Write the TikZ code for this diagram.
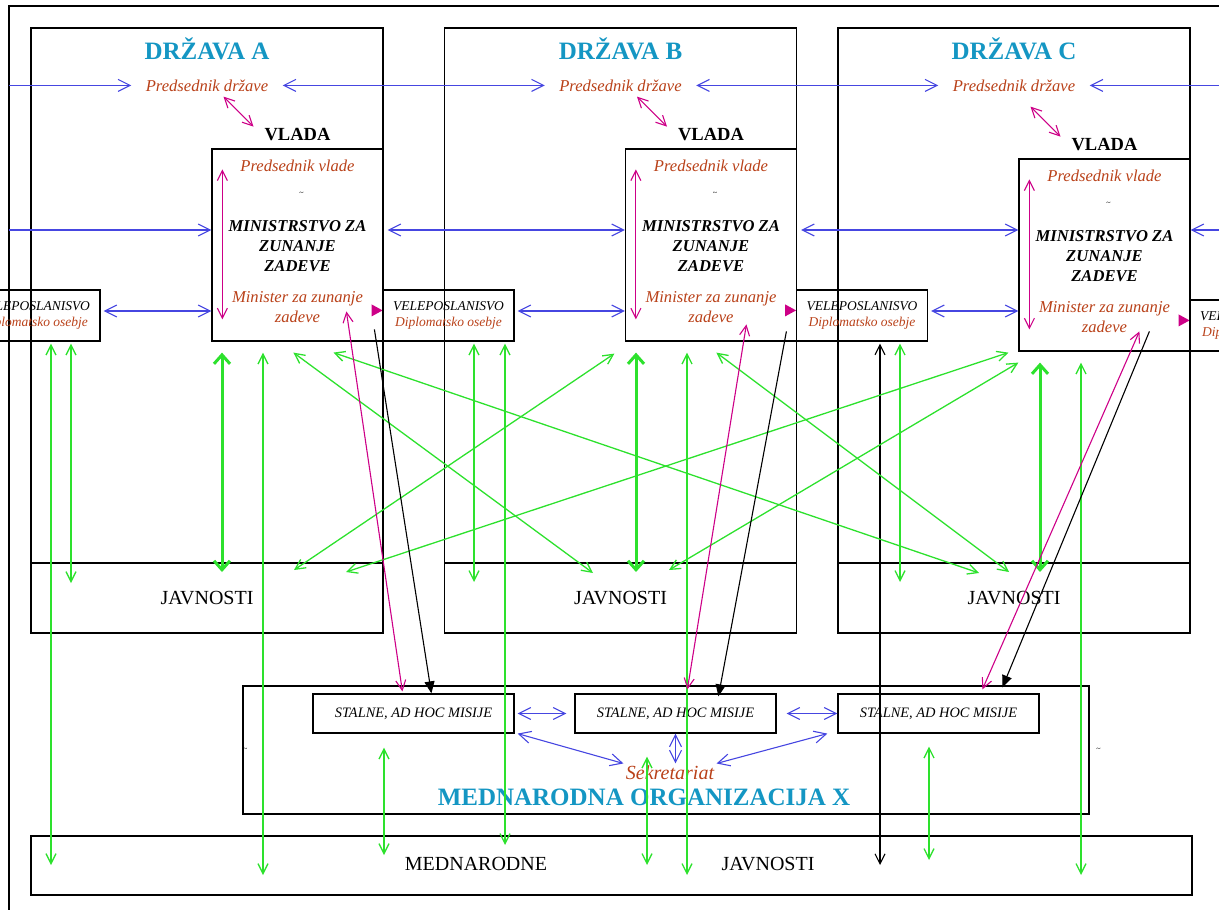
\documentclass[tikz,border=0pt]{standalone}
\usepackage{fontspec}
\setmainfont{Liberation Serif}
\usetikzlibrary{arrows.meta, positioning, calc}

\definecolor{titlecol}{RGB}{20,150,195}
\definecolor{txtbrown}{RGB}{185,65,25}
\definecolor{blueln}{RGB}{70,70,225}
\definecolor{magln}{RGB}{205,0,135}
\definecolor{greenln}{RGB}{45,225,45}

\tikzset{
         mystate/.style={draw, line width=1.2pt, minimum width=352pt, minimum height=605pt, inner sep=0pt},
         myjav/.style={draw, line width=1.2pt, minimum width=352pt, minimum height=70pt, inner sep=0pt, font=\fontsize{20}{22}\selectfont},
         myvlada/.style={draw, line width=1.2pt, minimum width=171pt, minimum height=192pt, inner sep=0pt, anchor=north east},
         myvel/.style={draw, line width=1.2pt, minimum width=131pt, minimum height=51pt, inner sep=0pt, align=center, font=\itshape\fontsize{13.5}{16}\selectfont},
         mymis/.style={draw, line width=1.2pt, minimum width=201pt, minimum height=39pt, inner sep=0pt, font=\itshape\fontsize{14.4}{16}\selectfont},
         mytitle/.style={inner sep=0pt, text=titlecol, font=\bfseries\fontsize{25}{28}\selectfont},
         mypres/.style={inner xsep=14pt, inner ysep=0pt, text=txtbrown, font=\itshape\fontsize{16.6}{20}\selectfont},
         mybold/.style={inner sep=0pt, font=\bfseries\fontsize{18.5}{20}\selectfont},
         myminis/.style={inner sep=0pt, align=center, font=\bfseries\itshape\fontsize{16.6}{20}\selectfont},
         mytilde/.style={inner sep=0pt, font=\fontsize{8}{8}\selectfont},
         myplain/.style={inner sep=0pt, font=\fontsize{20}{22}\selectfont}
      }

\begin{document}
\begin{tikzpicture}[x=1pt, y=-1pt, line width=1pt]
                  \tikzstyle{bline} = [draw=blueln, line width=1.1pt, >={Straight Barb[length=12pt,width=12pt]}]
                  \tikzstyle{gline} = [draw=greenln, line width=1.3pt, >={Straight Barb[length=10pt,width=10pt]}]
                  \tikzstyle{gthick} = [draw=greenln, line width=3pt, >={Straight Barb[length=9pt,width=16pt]}]
                  \tikzstyle{mline} = [draw=magln, line width=1.1pt, >={Straight Barb[length=10pt,width=10pt]}]
                  \tikzstyle{kline} = [draw=black, line width=1.1pt, >={Triangle[length=12pt,width=10pt]}]
                  \tikzstyle{kopen} = [draw=black, line width=1.1pt, >={Straight Barb[length=10pt,width=10pt]}]
                     \useasboundingbox (0,0) rectangle (1219,910);
                     \clip (0,0) rectangle (1219,910);
                     \coordinate (fr) at (9,6);
                     \coordinate (rt) at (1219,6);
                     \coordinate (mid) at (0,230);
                     \coordinate (vrow) at (0,311);
                     \draw[line width=2.5pt] (9,910) -- (fr) -- (rt);

                     % states
                     \foreach \s/\cx/\vy in {A/207/121, B/620.5/121, C/1014/131}{
                        \node[mystate] (drz\s) at (\cx,330.5) {};
                        \node[myjav, anchor=south] (jav\s) at (drz\s.south) {\raisebox{-4pt}{JAVNOSTI}};
                        \node[mytitle] (tit\s) at ([yshift=-21pt]drz\s.north) {DRŽAVA \s};
                        \node[mypres] (pres\s) at ([yshift=-58pt]drz\s.north) {Predsednik države};
                        \node[myvlada] (vbox\s) at ([yshift={-\vy*1pt}]drz\s.north east) {};
                        \node[mybold, above=7pt of vbox\s] (vl\s) {VLADA};
                        \node[mypres, inner xsep=0pt] (pv\s) at ([yshift=-17pt]vbox\s.north) {Predsednik vlade};
                        \node[mytilde] (tl\s) at ([xshift=4pt,yshift=-45pt]vbox\s.north) {\textasciitilde};
                        \node[myminis] (min\s) at ([yshift=-98pt]vbox\s.north) {MINISTRSTVO ZA\\ZUNANJE\\ZADEVE};
                        \node[mypres, inner xsep=0pt, align=center] (mz\s) at ([yshift=-159pt]vbox\s.north) {Minister za zunanje\\zadeve};
                        \draw[mline, <->] ([xshift=11pt,yshift=-21pt]vbox\s.north west) -- ([xshift=11pt,yshift=-171pt]vbox\s.north west);
                        \fill[magln] ([xshift=-12pt,yshift=-156pt]vbox\s.north east) -- ++(11,6) -- ++(-11,6) -- cycle;
                        \draw[mline, <->] ([xshift=-74pt,yshift=38pt]vl\s.center) -- ([xshift=-44pt,yshift=8pt]vl\s.center);
                     }

                     % embassies
                     \foreach \n/\x/\y in {0/34.5/315.5, 1/448.5/315.5, 2/862/315.5, 3/1255.5/325.5}
                        \node[myvel] (vel\n) at (\x,\y) {VELEPOSLANISVO\\\textcolor{txtbrown}{Diplomatsko osebje}};

                     % international organisation
                     \node[draw, line width=1.2pt, minimum width=846pt, minimum height=128pt] (org) at (666,750) {};
                     \node[mymis] (st1) at (413.5,713.5) {STALNE, AD HOC MISIJE};
                     \node[mymis] (st2) at (675.5,713.5) {STALNE, AD HOC MISIJE};
                     \node[mymis] (st3) at (938.5,713.5) {STALNE, AD HOC MISIJE};
                     \node[mypres, inner sep=2pt, font=\itshape\fontsize{20}{22}\selectfont] (sek) at (670,773) {Sekretariat};
                     \node[mytitle] (orgt) at (644,797) {MEDNARODNA ORGANIZACIJA X};
                     \node[mytilde] (tl1) at ([xshift=3pt]org.west) {\textasciitilde};
                     \node[mytilde] (tl2) at ([xshift=9pt]org.east) {\textasciitilde};

                     % international public
                     \node[draw, line width=1.2pt, minimum width=1161pt, minimum height=59pt] (mednJ) at (611.5,865.5) {};
                     \node[myplain] (mj1) at (476,864) {MEDNARODNE};
                     \node[myplain] (mj2) at (768,864) {JAVNOSTI};

                     % arrow ends
                     \foreach \n/\x/\y in {a1/71/583, a2/222/572, a3/294/570, a4/346/572,
                                           b1/474/582, b2/593/573, b3/636/572, b4/669/570,
                                           c1/900/582, c2/979/573, c3/1009/572, c4/1040/572}
                        \coordinate (j\n) at (\x,\y);
                     \foreach \n/\x/\y in {1/51/865, 2/263/875, 3/384/855, 4/505/845, 5/647/865,
                                           6/687/875, 7/880/865, 8/929/860, 9/1081/875}
                        \coordinate (m\n) at (\x,\y);

                     % blue
                     \path [bline, ->] (fr |- presA.west) -- (presA.west);
                     \path [bline, <->] (presA) -- (presB);
                     \path [bline, <->] (presB) -- (presC);
                     \path [bline, <-] (presC.east) -- (rt |- presC.east);
                     \path [bline, ->] (fr |- mid) -- (vboxA.west |- mid);
                     \path [bline, <->, shorten <=4pt] (vboxA.east |- mid) -- (vboxB.west |- mid);
                     \path [bline, <->, shorten <=4pt] (vboxB.east |- mid) -- (vboxC.west |- mid);
                     \path [bline, <-] (vboxC.east |- mid) -- (rt |- mid);
                     \path [bline, <->, shorten <=3pt] (vel0.east |- vrow) -- (vboxA.west |- vrow);
                     \path [bline, <->, shorten <=3pt] (vel1.east |- vrow) -- (vboxB.west |- vrow);
                     \path [bline, <->, shorten <=3pt] (vel2.east |- vrow) -- (vboxC.west |- vrow);
                     \path [bline, <->, shorten <=3pt, shorten >=8pt] (st1) -- (st2);
                     \path [bline, <->, shorten <=10pt] (st2) -- (st3);
                     \path [bline, <->] ([xshift=3pt]st1.south east) -- (sek.north west);
                     \path [bline, <->] (st2.south) -- (st2.south |- sek.north);
                     \path [bline, <->] ([xshift=-10pt]st3.south west) -- (sek.north east);

                     % green
                     \path [gline, <->, shorten <=2pt] (vel0.south -| m1) -- (m1);
                     \path [gline, <->, shorten <=2pt] (vel0.south -| ja1) -- (ja1);
                     \path [gline, <->, shorten <=2pt] (vel1.south -| jb1) -- (jb1);
                     \path [gline, <->, shorten <=2pt] (vel1.south -| m4) -- (m4);
                     \path [kopen, <->, shorten <=2pt] (vel2.south -| m7) -- (m7);
                     \path [gline, <->, shorten <=2pt] (vel2.south -| jc1) -- (jc1);
                     \path [gthick, <->, shorten <=11pt] (vboxA.south -| ja2) -- (ja2);
                     \path [gthick, <->, shorten <=11pt] (vboxB.south -| jb3) -- (jb3);
                     \path [gthick, <->, shorten <=11pt] (vboxC.south -| jc4) -- (jc4);
                     \path [gline, <->, shorten <=11pt] (vboxA.south -| m2) -- (m2);
                     \path [gline, <->, shorten <=11pt] (vboxB.south -| m6) -- (m6);
                     \path [gline, <->, shorten <=11pt] (vboxC.south -| m9) -- (m9);
                     \path [gline, <->] ($(vboxA.south west)+(82,11)$) -- (jb2);
                     \path [gline, <->] ($(vboxA.south west)+(122,11)$) -- (jc2);
                     \path [gline, <->] ($(vboxB.south west)+(-10.5,12)$) -- (ja3);
                     \path [gline, <->] ($(vboxB.south west)+(91.5,11)$) -- (jc3);
                     \path [gline, <->] ($(vboxC.south west)+(-10,1)$) -- (ja4);
                     \path [gline, <->] ($(vboxC.south west)+(0,11)$) -- (jb4);
                     \path [gline, <->, shorten <=14pt] (st1.south -| m3) -- (m3);
                     \path [gline, <->, shorten <=23pt] (st2.south -| m5) -- (m5);
                     \path [gline, <->, shorten <=13pt] (st3.south -| m8) -- (m8);

                     % ministers to missions
                     \path [mline, <->] ($(vboxA.north west)+(135,163)$) -- ($(st1.north west)+(90,-2)$);
                     \path [kline, ->] ($(vboxA.north west)+(163,181)$) -- ($(st1.north west)+(119,0)$);
                     \path [mline, <->] ($(vboxB.north west)+(121.5,176)$) -- ($(st2.north west)+(113,-4)$);
                     \path [kline, ->] ($(vboxB.north west)+(161.5,183)$) -- ($(st2.north west)+(144,3)$);
                     \path [mline, <->] ($(vboxC.north west)+(121,173)$) -- ($(st3.north west)+(145,-4)$);
                     \path [kline, ->] ($(vboxC.north west)+(131,173)$) -- ($(st3.north west)+(165,-6)$);
               \end{tikzpicture}
\end{document}
